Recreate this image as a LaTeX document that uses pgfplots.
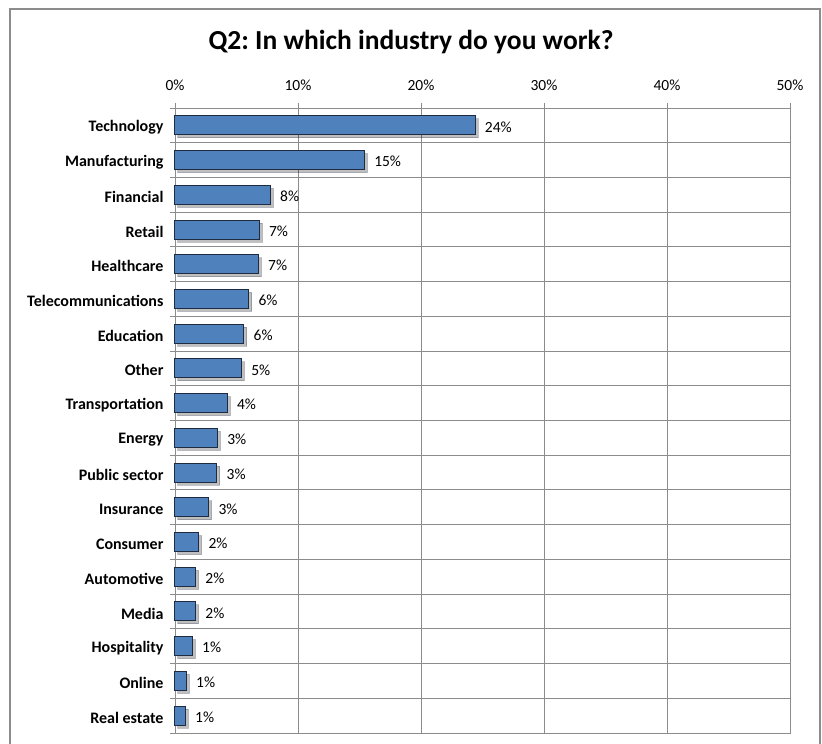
\documentclass[border=0pt]{standalone}
\usepackage{pgfplots}
\pgfplotsset{compat=1.18}
\usepackage{fontspec}
\setmainfont{Carlito}
\usetikzlibrary{shadows}
\definecolor{barblue}{HTML}{4F81BD}
\definecolor{barline}{HTML}{1E2B40}
\definecolor{gridgray}{HTML}{8C8C8C}
\frenchspacing
\begin{document}
\begin{tikzpicture}[x=1pt,y=1pt]
\path[use as bounding box] (0,0) rectangle (822,744);
\draw[gridgray, line width=1.2pt] (10,-5) -- (10,735) -- (820,735) -- (820,-5);
\node[font=\bfseries\fontsize{27.5}{32}\selectfont, anchor=base] at (411,694) {Q2: In which industry do you work?};
\begin{axis}[
  at={(175pt,11pt)}, anchor=south west,
  scale only axis, width=615pt, height=625pt,
  /pgf/number format/assume math mode=true,
  xbar, bar width=19pt,
  xmin=0, xmax=50, ymin=-0.5, ymax=17.5, y dir=reverse,
  xtick={0,10,20,30,40,50},
  xtick pos=upper, xticklabel pos=upper,
  xticklabel={\pgfmathprintnumber{\tick}\%},
  tick align=outside, major tick length=5pt,
  xmajorgrids, ymajorgrids,
  grid style={gridgray, line width=0.9pt},
  axis line style={gridgray, line width=0.9pt},
  tick style={gridgray, line width=0.9pt},
  ytick={-0.5,0.5,...,17.5}, yticklabels={},
  ytick pos=left,
  extra y ticks={0,1,...,17},
  extra y tick labels={Technology,Manufacturing,Financial,Retail,Healthcare,Telecommunications,Education,Other,Transportation,Energy,Public sector,Insurance,Consumer,Automotive,Media,Hospitality,Online,Real estate},
  extra y tick style={grid=none, major tick length=0pt, yticklabel style={font=\bfseries\fontsize{16}{18}\selectfont, xshift=-8pt, yshift=-2pt}},
  x tick label style={font=\fontsize{15.5}{18}\selectfont, yshift=9pt},
  point meta=x,
  nodes near coords={\pgfmathprintnumber[fixed,precision=0]{\pgfplotspointmeta}\%},
  nodes near coords align={horizontal},
  every node near coord/.append style={font=\fontsize{15.5}{18}\selectfont, xshift=6pt, yshift=-1.5pt, black},
  clip=false,
]
\addplot[fill=barblue, draw=barline, line width=1pt,
  drop shadow={shadow xshift=3pt, shadow yshift=-3pt, opacity=0.25, fill=black}]
coordinates {
(24.4,0) (15.4,1) (7.75,2) (6.85,3) (6.78,4) (6.0,5) (5.6,6) (5.4,7) (4.25,8) (3.45,9) (3.4,10) (2.74,11) (1.93,12) (1.68,13) (1.68,14) (1.41,15) (0.92,16) (0.84,17)
};
\end{axis}
\end{tikzpicture}
\end{document}
